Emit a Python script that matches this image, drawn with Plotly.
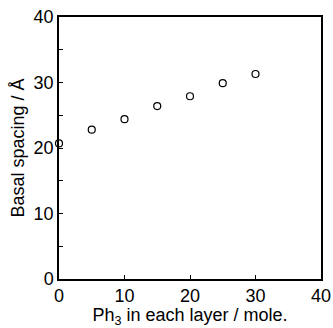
import plotly.graph_objects as go

ph3 = [0, 5, 10, 15, 20, 25, 30]
spacing = [20.7, 22.8, 24.4, 26.4, 27.9, 29.9, 31.3]
x_ticks = [0, 10, 20, 30, 40]
y_ticks = [0, 10, 20, 30, 40]

fig = go.Figure()
fig.add_trace(go.Scatter(
    x=ph3, y=spacing, mode="markers",
    marker=dict(symbol="circle-open", size=7, color="black", line=dict(width=1.2, color="black")),
    cliponaxis=False, showlegend=False,
))

font = dict(family="Liberation Sans, Arial, sans-serif", color="black")
fig.update_layout(
    width=333, height=328,
    margin=dict(l=59, r=12, t=17, b=49),
    paper_bgcolor="white", plot_bgcolor="white",
    font=font,
)
fig.update_xaxes(
    range=[0, 40], tickvals=x_ticks, ticks="inside", ticklen=4, tickwidth=1, tickcolor="black",
    showline=True, linecolor="black", linewidth=1.5, mirror=True, showgrid=False, zeroline=False,
    tickfont=dict(size=18), title=dict(text="Ph<sub>3</sub> in each layer / mole.", font=dict(size=18), standoff=2),
    automargin=False,
)
fig.update_yaxes(
    range=[0, 40], tickvals=y_ticks, ticks="inside", ticklen=4, tickwidth=1, tickcolor="black",
    showline=True, linecolor="black", linewidth=1.5, mirror=True, showgrid=False, zeroline=False,
    tickfont=dict(size=18), title=dict(text="Basal spacing / Å", font=dict(size=18), standoff=4),
    automargin=False,
    minor=dict(tickvals=[5, 15, 25, 35], ticks="inside", ticklen=4, tickwidth=1, tickcolor="black", showgrid=False),
)
fig.write_html("out.html", config={"displayModeBar": False},
               post_script="document.body.style.margin='0';")
